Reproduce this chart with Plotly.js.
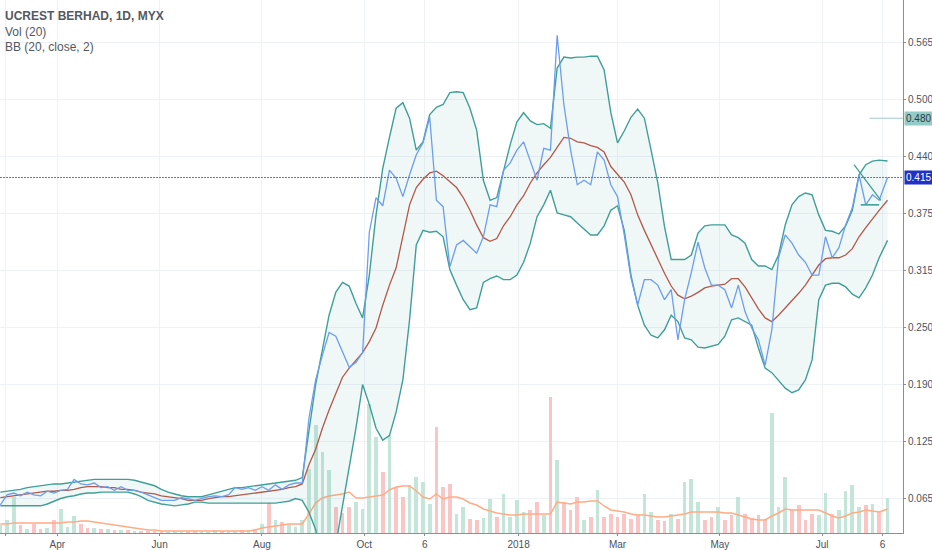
<!DOCTYPE html>
<html>
<head>
<meta charset="utf-8">
<script src="https://cdn.plot.ly/plotly-3.0.1.min.js"></script>
<style>html,body{margin:0;padding:0;background:#fff}#chart{width:932px;height:550px}</style>
</head>
<body>
<div id="chart"></div>
<script>
// ---- data (4-day sampling of daily series) ----
const dates = ['2017-02-26','2017-03-02','2017-03-06','2017-03-10','2017-03-14','2017-03-18','2017-03-22','2017-03-26','2017-03-30',
'2017-04-03','2017-04-07','2017-04-11','2017-04-15','2017-04-19','2017-04-23','2017-04-27',
'2017-05-01','2017-05-05','2017-05-09','2017-05-13','2017-05-17','2017-05-21','2017-05-25','2017-05-29',
'2017-06-02','2017-06-06','2017-06-10','2017-06-14','2017-06-18','2017-06-22','2017-06-26','2017-06-30',
'2017-07-04','2017-07-08','2017-07-12','2017-07-16','2017-07-20','2017-07-24','2017-07-28',
'2017-08-01','2017-08-05','2017-08-09','2017-08-13','2017-08-17','2017-08-21','2017-08-25','2017-08-29',
'2017-09-02','2017-09-06','2017-09-10','2017-09-14','2017-09-18','2017-09-22','2017-09-26','2017-09-30',
'2017-10-04','2017-10-08','2017-10-12','2017-10-16','2017-10-20','2017-10-24','2017-10-28',
'2017-11-01','2017-11-05','2017-11-09','2017-11-13','2017-11-17','2017-11-21','2017-11-25','2017-11-29',
'2017-12-03','2017-12-07','2017-12-11','2017-12-15','2017-12-19','2017-12-23','2017-12-27','2017-12-31',
'2018-01-04','2018-01-08','2018-01-12','2018-01-16','2018-01-20','2018-01-24','2018-01-28',
'2018-02-01','2018-02-05','2018-02-09','2018-02-13','2018-02-17','2018-02-21','2018-02-25',
'2018-03-01','2018-03-05','2018-03-09','2018-03-13','2018-03-17','2018-03-21','2018-03-25','2018-03-29',
'2018-04-02','2018-04-06','2018-04-10','2018-04-14','2018-04-18','2018-04-22','2018-04-26','2018-04-30',
'2018-05-04','2018-05-08','2018-05-12','2018-05-16','2018-05-20','2018-05-24','2018-05-28',
'2018-06-01','2018-06-05','2018-06-09','2018-06-13','2018-06-17','2018-06-21','2018-06-25','2018-06-29',
'2018-07-03','2018-07-07','2018-07-11','2018-07-15','2018-07-19','2018-07-23','2018-07-27','2018-07-31',
'2018-08-04','2018-08-09'];

const closePrice = [0.056,0.067,0.069,0.066,0.070,0.067,0.066,0.071,0.069,
0.072,0.073,0.084,0.079,0.078,0.080,0.075,
0.076,0.072,0.076,0.072,0.072,0.070,0.067,0.064,
0.061,0.061,0.061,0.064,0.063,0.061,0.063,0.065,
0.066,0.065,0.067,0.075,0.073,0.075,0.072,
0.076,0.072,0.078,0.073,0.078,0.080,0.080,0.151,
0.193,0.220,0.245,0.241,0.224,0.207,0.212,0.223,
0.355,0.393,0.384,0.423,0.414,0.394,0.418,
0.440,0.453,0.481,0.390,0.383,0.317,0.341,0.346,
0.339,0.332,0.350,0.385,0.383,0.423,0.431,0.445,
0.454,0.434,0.412,0.447,0.445,0.571,0.495,
0.445,0.407,0.412,0.407,0.443,0.434,0.407,
0.394,0.352,0.305,0.275,0.303,0.303,0.297,0.281,
0.292,0.237,0.281,0.311,0.344,0.316,0.297,0.297,
0.292,0.272,0.297,0.268,0.250,0.237,0.209,
0.248,0.327,0.352,0.343,0.330,0.322,0.308,0.308,
0.350,0.327,0.338,0.363,0.382,0.418,0.385,0.396,
0.390,0.415];

const bbUpper = [0.070,0.071,0.072,0.073,0.075,0.076,0.077,0.078,0.079,
0.079,0.080,0.081,0.082,0.083,0.084,0.084,
0.084,0.084,0.084,0.084,0.083,0.081,0.079,0.077,
0.073,0.070,0.068,0.066,0.065,0.065,0.065,0.067,
0.069,0.071,0.073,0.075,0.075,0.076,0.077,
0.078,0.079,0.080,0.081,0.082,0.083,0.086,0.138,
0.188,0.226,0.264,0.289,0.300,0.296,0.277,0.261,
0.308,0.374,0.425,0.459,0.491,0.497,0.480,
0.445,0.454,0.484,0.492,0.495,0.508,0.509,0.508,
0.491,0.467,0.412,0.390,0.393,0.423,0.451,0.476,
0.486,0.477,0.473,0.474,0.469,0.535,0.547,
0.546,0.547,0.547,0.548,0.548,0.533,0.486,
0.453,0.466,0.481,0.490,0.480,0.445,0.409,0.361,
0.325,0.325,0.325,0.330,0.354,0.362,0.363,0.363,
0.363,0.352,0.349,0.343,0.325,0.318,0.318,
0.314,0.330,0.363,0.385,0.394,0.398,0.396,0.374,
0.357,0.356,0.353,0.362,0.379,0.418,0.429,0.433,
0.434,0.433];

const bbBasis = [0.064,0.065,0.066,0.067,0.068,0.069,0.070,0.071,0.071,
0.072,0.072,0.073,0.075,0.076,0.076,0.076,
0.075,0.075,0.073,0.073,0.072,0.070,0.069,0.068,
0.066,0.065,0.064,0.063,0.061,0.061,0.061,0.063,
0.064,0.065,0.065,0.066,0.067,0.068,0.069,
0.070,0.071,0.072,0.073,0.075,0.076,0.079,0.100,
0.117,0.140,0.160,0.179,0.196,0.206,0.214,0.223,
0.235,0.250,0.275,0.297,0.316,0.352,0.385,
0.404,0.413,0.420,0.422,0.417,0.411,0.404,0.393,
0.379,0.363,0.349,0.345,0.348,0.362,0.372,0.385,
0.395,0.409,0.420,0.429,0.437,0.448,0.459,
0.458,0.454,0.453,0.450,0.448,0.443,0.427,
0.418,0.410,0.396,0.374,0.357,0.341,0.325,0.310,
0.296,0.286,0.282,0.285,0.289,0.294,0.296,0.297,
0.298,0.304,0.304,0.295,0.283,0.271,0.261,
0.257,0.264,0.272,0.279,0.288,0.297,0.308,0.319,
0.326,0.327,0.327,0.330,0.337,0.350,0.360,0.370,
0.379,0.390];

const bbLower = [0.055,0.055,0.055,0.055,0.055,0.055,0.055,0.057,0.060,
0.063,0.065,0.066,0.068,0.069,0.069,0.070,
0.070,0.070,0.070,0.070,0.068,0.065,0.061,0.059,
0.057,0.056,0.055,0.056,0.057,0.059,0.059,0.058,
0.058,0.058,0.058,0.058,0.058,0.058,0.058,
0.058,0.058,0.058,0.059,0.060,0.063,0.061,0.048,
0.029,-0.004,-0.021,0.012,0.054,0.096,0.140,0.188,
0.166,0.140,0.127,0.132,0.158,0.193,0.259,
0.341,0.357,0.355,0.356,0.350,0.314,0.297,0.281,
0.270,0.272,0.300,0.304,0.307,0.303,0.303,0.308,
0.322,0.343,0.372,0.385,0.401,0.376,0.374,
0.372,0.365,0.359,0.352,0.352,0.362,0.379,
0.384,0.357,0.308,0.275,0.253,0.242,0.239,0.248,
0.264,0.257,0.239,0.237,0.229,0.228,0.230,0.232,
0.241,0.259,0.261,0.257,0.253,0.228,0.206,
0.201,0.193,0.184,0.179,0.182,0.193,0.215,0.281,
0.297,0.299,0.299,0.295,0.287,0.283,0.294,0.308,
0.327,0.346];

// volume in millions of shares
const volume = [0.8,1.3,3.6,0.8,0.4,0.9,0.4,0.5,1.3,
2.4,0.6,1.7,0.9,0.5,0.5,0.4,
0.4,0.3,0.3,0.3,0.2,0.2,0.2,0.2,
0.2,0.2,0.2,0.2,0.2,0.2,0.2,0.2,
0.3,0.2,0.2,0.2,0.3,0.3,0.4,
0.9,3.0,1.3,1.1,0.9,0.6,1.3,6.4,
10.8,8.1,6.3,2.6,2.0,2.6,3.1,2.4,
12.9,9.6,6.1,9.8,4.6,3.6,4.8,
5.6,5.1,2.9,10.6,4.6,4.9,1.9,2.6,
1.4,1.3,1.5,3.4,1.6,3.9,1.6,3.3,
2.1,2.3,3.1,1.8,13.6,7.3,3.1,
2.3,3.6,1.3,1.6,4.3,1.6,1.9,
1.6,1.9,1.4,1.8,3.9,2.1,1.3,1.2,
1.9,1.4,5.1,5.4,3.1,1.3,1.6,2.6,
1.3,1.8,3.6,1.9,1.5,1.8,1.4,
12.0,2.6,5.6,2.3,2.8,1.3,1.9,1.8,
4.0,1.9,2.3,4.2,4.8,2.6,2.8,2.9,
2.1,3.5];

const volumeMA = [0.9,0.9,1.0,1.0,1.0,1.0,1.0,1.0,1.0,
1.0,1.1,1.1,1.2,1.2,1.1,1.0,
0.9,0.8,0.7,0.6,0.5,0.4,0.3,0.3,
0.2,0.2,0.2,0.2,0.2,0.2,0.2,0.2,
0.2,0.2,0.2,0.2,0.2,0.2,0.3,
0.5,0.6,0.7,0.8,0.9,0.9,0.9,1.9,
3.0,3.5,3.7,3.8,3.9,4.1,3.5,3.5,
3.6,3.7,3.8,4.3,4.6,4.7,4.7,
4.2,3.6,3.4,3.9,3.4,3.6,3.6,3.4,
3.0,2.8,2.4,2.2,2.0,1.9,1.8,1.8,
1.9,1.9,1.9,1.9,1.9,3.1,3.0,
2.9,3.1,3.1,3.2,3.2,2.7,2.3,
2.2,2.1,1.9,1.8,1.8,1.7,1.6,1.6,
1.7,1.8,1.9,2.1,2.1,2.1,2.1,2.1,
2.0,2.0,1.8,1.6,1.4,1.3,1.3,
1.7,2.0,2.4,2.3,2.3,2.3,2.3,2.3,
2.0,1.7,1.5,1.7,2.0,2.1,2.3,2.2,
2.1,2.4];

// drawn trend lines (user drawings on the chart)
const trendDiagDates = ['2018-07-20','2018-08-05'];
const trendDiagValues = [0.429, 0.390];
const trendFlatDates = ['2018-07-24','2018-08-04'];
const trendFlatValues = [0.385, 0.385];

const lastPrice = 0.415;
const markedPrice = 0.480;

const priceTickVals = [0.0625,0.125,0.1875,0.25,0.3125,0.375,0.4375,0.5,0.5625];
const priceTickText = ['0.065','0.125','0.190','0.250','0.315','0.375','0.440','0.500','0.565'];
const dateTickVals = ['2017-03-01','2017-04-01','2017-06-01','2017-08-01','2017-10-01','2017-11-06','2018-01-01','2018-03-01','2018-05-01','2018-07-01','2018-08-06'];
const dateTickText = ['Mar','Apr','Jun','Aug','Oct','6','2018','Mar','May','Jul','6'];

// ---- traces ----
const volColors = volume.map((v, i) => (i === 0 || closePrice[i] >= closePrice[i-1]) ? '#c4e6d8' : '#fac5c5');
const DAY = 86400000;

const traces = [
  {type:'bar', x:dates, y:volume, yaxis:'y', marker:{color:volColors, line:{width:0}}, width:2.2*DAY, hoverinfo:'skip'},
  {type:'scatter', mode:'lines', x:dates, y:volumeMA, yaxis:'y', line:{color:'#ffab85', width:1.5}, hoverinfo:'skip'},
  {type:'scatter', mode:'lines', x:dates, y:bbLower, yaxis:'y2', line:{color:'#3f9f97', width:1.4}, hoverinfo:'skip'},
  {type:'scatter', mode:'lines', x:dates, y:bbUpper, yaxis:'y2', line:{color:'#3f9f97', width:1.4}, fill:'tonexty', fillcolor:'rgba(38,150,140,0.07)', hoverinfo:'skip'},
  {type:'scatter', mode:'lines', x:dates, y:bbBasis, yaxis:'y2', line:{color:'#b3584a', width:1.3}, hoverinfo:'skip'},
  {type:'scatter', mode:'lines', x:dates, y:closePrice, yaxis:'y2', line:{color:'#6d9ded', width:1.3}, hoverinfo:'skip'},
  {type:'scatter', mode:'lines', x:trendDiagDates, y:trendDiagValues, yaxis:'y2', line:{color:'#3f9f97', width:1.3}, hoverinfo:'skip'},
  {type:'scatter', mode:'lines', x:trendFlatDates, y:trendFlatValues, yaxis:'y2', line:{color:'#3f9f97', width:1.6}, hoverinfo:'skip'}
];

const fam = '"Liberation Sans", Arial, sans-serif';

const layout = {
  width:932, height:550,
  margin:{l:0, r:29, t:0, b:17, pad:0},
  paper_bgcolor:'#ffffff', plot_bgcolor:'#ffffff',
  showlegend:false,
  font:{family:fam, size:10, color:'#4c525e'},
  bargap:0,
  xaxis:{
    type:'date', range:['2017-02-25 19:00','2018-08-18 05:00'],
    tickvals:dateTickVals, ticktext:dateTickText, tickangle:0,
    showgrid:true, gridcolor:'#eef2f7', gridwidth:1,
    showline:true, linecolor:'#8a8e96', linewidth:1,
    ticks:'outside', ticklen:2, tickcolor:'#8a8e96',
    tickfont:{family:fam, size:10, color:'#4c525e'},
    zeroline:false, fixedrange:true
  },
  yaxis:{range:[0,53.3], visible:false, showgrid:false, zeroline:false, fixedrange:true},
  yaxis2:{
    overlaying:'y', side:'right', range:[0.0252,0.6096],
    tickvals:priceTickVals, ticktext:priceTickText,
    showgrid:true, gridcolor:'#eef2f7', gridwidth:1,
    showline:true, linecolor:'#8a8e96', linewidth:1,
    ticks:'outside', ticklen:2, tickcolor:'#8a8e96',
    tickfont:{family:fam, size:10, color:'#4c525e'},
    zeroline:false, fixedrange:true
  },
  shapes:[
    {type:'line', xref:'paper', x0:0, x1:1, yref:'y2', y0:lastPrice, y1:lastPrice, line:{color:'#4f6ff7', width:1, dash:'2px,1px'}},
    {type:'line', xref:'paper', x0:0.963, x1:1, yref:'y2', y0:markedPrice, y1:markedPrice, line:{color:'#9fc7dc', width:1}}
  ],
  annotations:[
    {xref:'paper', yref:'paper', x:0, y:1, xanchor:'left', yanchor:'top', xshift:3, yshift:-7, showarrow:false, align:'left',
     text:'<b>UCREST BERHAD, 1D, MYX</b>', font:{family:fam, size:12, color:'#545862'}},
    {xref:'paper', yref:'paper', x:0, y:1, xanchor:'left', yanchor:'top', xshift:3, yshift:-23, showarrow:false, align:'left',
     text:'Vol (20)', font:{family:fam, size:12, color:'#545862'}},
    {xref:'paper', yref:'paper', x:0, y:1, xanchor:'left', yanchor:'top', xshift:3, yshift:-38, showarrow:false, align:'left',
     text:'BB (20, close, 2)', font:{family:fam, size:12, color:'#545862'}},
    {xref:'paper', yref:'y2', x:1, y:lastPrice, xanchor:'left', yanchor:'middle', xshift:1, showarrow:false,
     text:lastPrice.toFixed(3), bgcolor:'#2130c8', borderpad:1, font:{family:fam, size:10, color:'#ffffff'}},
    {xref:'paper', yref:'y2', x:1, y:markedPrice, xanchor:'left', yanchor:'middle', xshift:1, showarrow:false,
     text:markedPrice.toFixed(3), bgcolor:'#93cbc6', borderpad:1, font:{family:fam, size:10, color:'#2d3a3a'}}
  ]
};

Plotly.newPlot('chart', traces, layout, {displayModeBar:false, staticPlot:true});
</script>
</body>
</html>
